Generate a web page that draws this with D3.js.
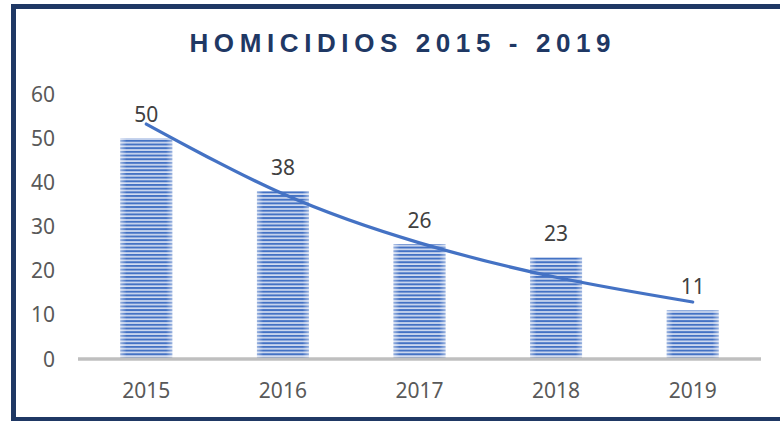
<!DOCTYPE html>
<html>
<head>
    <script src="https://d3js.org/d3.v7.min.js"></script>
    <style>
        body { margin: 0; background: #fff; }
    </style>
</head>
<body>
    <script>
        const years = ['2015', '2016', '2017', '2018', '2019'];
        const homicidios = [50, 38, 26, 23, 11];
        // exponential trend line
        const tendencia = [53.2, 37.4, 26.3, 18.5, 12.9];
        const yTicks = [0, 10, 20, 30, 40, 50, 60];

        const W = 780, H = 421;
        const svg = d3.select('body').append('svg')
            .attr('width', W)
            .attr('height', H);

        svg.append('rect').attr('width', W).attr('height', H).attr('fill', '#fff');

        const defs = svg.append('defs');
        const pat = defs.append('pattern')
            .attr('id', 'stripes')
            .attr('patternUnits', 'userSpaceOnUse')
            .attr('width', 8)
            .attr('height', 3.68);
        pat.append('rect').attr('width', 8).attr('height', 3.68).attr('fill', '#d3ddf1');
        pat.append('rect').attr('width', 8).attr('height', 2).attr('fill', '#4472c4');

        const grad = defs.append('linearGradient').attr('id', 'edge');
        grad.append('stop').attr('offset', '0%').attr('stop-color', '#fff').attr('stop-opacity', 0.45);
        grad.append('stop').attr('offset', '12%').attr('stop-color', '#fff').attr('stop-opacity', 0);
        grad.append('stop').attr('offset', '88%').attr('stop-color', '#fff').attr('stop-opacity', 0);
        grad.append('stop').attr('offset', '100%').attr('stop-color', '#fff').attr('stop-opacity', 0.45);

        const x = d3.scaleBand()
            .domain(years)
            .range([78, 761])
            .paddingInner(0.62)
            .paddingOuter(0.31);

        const y = d3.scaleLinear()
            .domain([0, 60])
            .range([359, 94]);

        // y tick labels
        svg.append('g')
            .selectAll('text')
            .data(yTicks)
            .join('text')
            .attr('x', 55)
            .attr('y', d => y(d) + 7.5)
            .attr('text-anchor', 'end')
            .attr('font-family', 'Noto Sans, sans-serif')
            .attr('font-size', 21)
            .attr('fill', '#595959')
            .text(d => d);

        // bars
        const bars = svg.append('g');
        bars.selectAll('rect.bar')
            .data(homicidios)
            .join('rect')
            .attr('class', 'bar')
            .attr('x', (d, i) => x(years[i]))
            .attr('y', d => y(d))
            .attr('width', x.bandwidth())
            .attr('height', d => y(0) - y(d))
            .attr('fill', 'url(#stripes)');
        bars.selectAll('rect.edge')
            .data(homicidios)
            .join('rect')
            .attr('class', 'edge')
            .attr('x', (d, i) => x(years[i]))
            .attr('y', d => y(d))
            .attr('width', x.bandwidth())
            .attr('height', d => y(0) - y(d))
            .attr('fill', 'url(#edge)');

        // x axis line
        svg.append('line')
            .attr('x1', 78).attr('x2', 761)
            .attr('y1', y(0)).attr('y2', y(0))
            .attr('stroke', '#bfbfbf')
            .attr('stroke-width', 3.5);

        // x labels
        svg.append('g')
            .selectAll('text')
            .data(years)
            .join('text')
            .attr('x', d => x(d) + x.bandwidth() / 2)
            .attr('y', 398)
            .attr('text-anchor', 'middle')
            .attr('font-family', 'Noto Sans, sans-serif')
            .attr('font-size', 21)
            .attr('fill', '#595959')
            .text(d => d);

        // trend line
        const line = d3.line()
            .x((d, i) => x(years[i]) + x.bandwidth() / 2)
            .y(d => y(d))
            .curve(d3.curveNatural);

        svg.append('path')
            .datum(tendencia)
            .attr('fill', 'none')
            .attr('stroke', '#4472c4')
            .attr('stroke-width', 3.2)
            .attr('stroke-linecap', 'round')
            .attr('d', line);

        // data labels
        svg.append('g')
            .selectAll('text')
            .data(homicidios)
            .join('text')
            .attr('x', (d, i) => x(years[i]) + x.bandwidth() / 2)
            .attr('y', d => y(d) - 16.5)
            .attr('text-anchor', 'middle')
            .attr('font-family', 'Noto Sans, sans-serif')
            .attr('font-size', 21)
            .attr('fill', '#404040')
            .text(d => d);

        // title
        const ls = 5.6;
        svg.append('text')
            .attr('x', 400 + ls / 2)
            .attr('y', 52)
            .attr('text-anchor', 'middle')
            .attr('font-family', 'Liberation Sans, Arial, sans-serif')
            .attr('font-weight', 'bold')
            .attr('font-size', 26)
            .attr('letter-spacing', ls)
            .attr('fill', '#1f3864')
            .text('HOMICIDIOS 2015 - 2019');

        // frame
        svg.append('rect')
            .attr('x', 13.5)
            .attr('y', 6.5)
            .attr('width', 820)
            .attr('height', 413)
            .attr('fill', 'none')
            .attr('stroke', '#1f3864')
            .attr('stroke-width', 5);
    </script>
</body>
</html>
